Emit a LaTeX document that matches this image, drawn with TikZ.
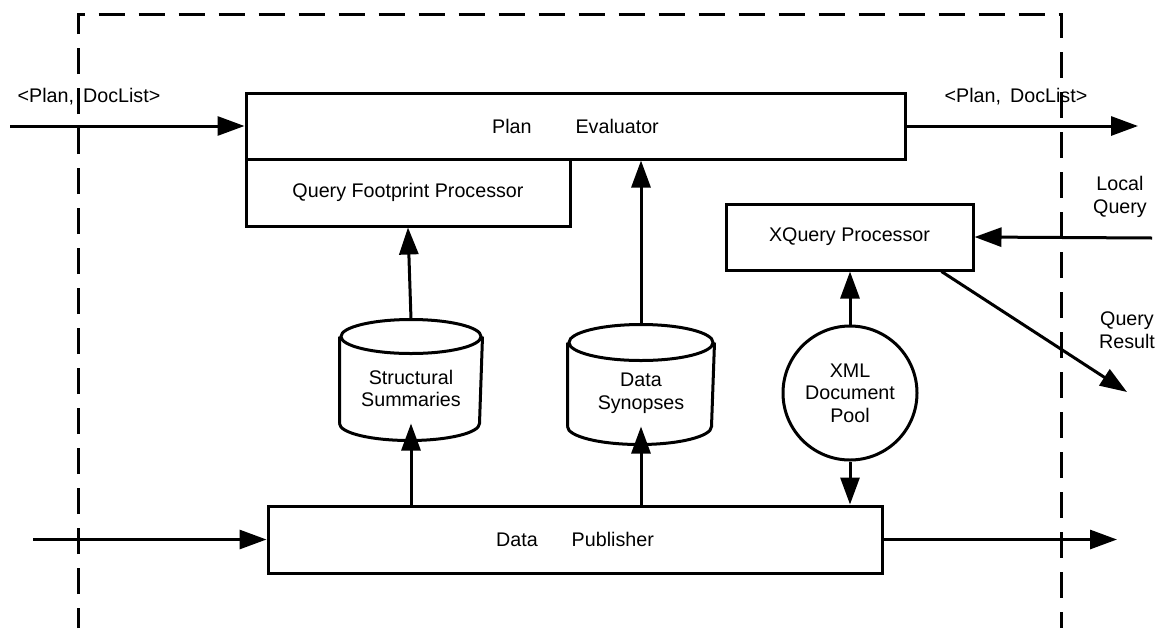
\documentclass[tikz,border=0pt]{standalone}
\usepackage{fontspec}
\setmainfont{Liberation Sans}
\usetikzlibrary{arrows.meta}
\begin{document}
\begin{tikzpicture}[x=1pt,y=-1pt,line width=3pt,
  every node/.style={font=\fontsize{19.7}{22.5}\selectfont,inner sep=0pt,align=center},
  box/.style={draw,rectangle},
  plain/.style={rectangle},
  flow/.style={-{Triangle[length=27pt,width=19pt]}},
  frame/.style={dash pattern=on 26pt off 14pt,dash phase=6pt},
  disc/.style={draw,circle,minimum size=134pt}]

\useasboundingbox (0,0) rectangle (1159,638);

% peer boundary
\draw[frame] (78,628) -- (78,14.5) -- (1061,14.5) -- (1061,628);

% processing boxes
\node[box,minimum width=659pt,minimum height=66pt] (pe) at (575.5,126) {Plan\hspace{44pt}Evaluator};
\node[box,minimum width=324pt,minimum height=67pt] (qfp) at (408,192.5) {Query Footprint Processor};
\node[box,minimum width=247pt,minimum height=66pt] (xq) at (849.5,237) {XQuery Processor};
\node[box,minimum width=614pt,minimum height=67pt] (dp) at (575,539.5) {Data\hspace{34pt}Publisher};

% summary stores (cylinders drawn around the nodes)
\node[plain,minimum width=140pt,minimum height=101pt] (ss) at (411,388.5) {Structural\\Summaries};
\node[plain,minimum width=144pt,minimum height=99pt] (ds) at (641,393.5) {Data\\Synopses};
\draw ([yshift=17pt]ss.south west) -- (ss.north west)
      ([yshift=17pt]ss.south west) arc[start angle=180,end angle=360,x radius=70pt,y radius=17pt]
      -- (ss.north east);
\draw (ss.north) ellipse[x radius=70pt,y radius=17pt];
\draw ([yshift=18pt]ds.south west) -- (ds.north west)
      ([yshift=18pt]ds.south west) arc[start angle=180,end angle=360,x radius=72pt,y radius=18pt]
      -- (ds.north east);
\draw (ds.north) ellipse[x radius=72pt,y radius=18pt];
\coordinate (sstop) at ([yshift=17pt]ss.north);
\coordinate (dstop) at ([yshift=18pt]ds.north);

% document pool
\node[disc] (xml) at (850,393) {XML\\Document\\Pool};

% external ends
\coordinate (pin) at (10,126);
\coordinate (pout) at (1138,126);
\coordinate (din) at (33,539.5);
\coordinate (dout) at (1117,539.5);
\coordinate (lq) at (1152,238);
\coordinate (qr) at (1127,392);

% labels
\node (lin) at (89,97) {<Plan,\hspace{9pt}DocList>};
\node (lout) at (1016,97) {<Plan,\hspace{9pt}DocList>};
\node (llq) at (1120,197) {Local\\Query};
\node (lqr) at (1127,330) {Query\\Result};

% flows
\draw[flow] (pin) -- (pe.west);
\draw[flow] (pe.east) -- (pout);
\draw[flow] (din) -- (dp.west);
\draw[flow] (dp.east) -- (dout);
\draw[flow] (sstop) -- (qfp.south);
\draw[flow] (dstop) -- (dstop |- pe.south);
\draw[flow] (ss.south |- dp.north) -- ([yshift=17pt]ss.south);
\draw[flow] (ds.south |- dp.north) -- ([yshift=18pt]ds.south);
\draw[flow] (xml.north) -- (xml.north |- xq.south);
\draw[flow] (xml.south) -- (xml.south |- dp.north);
\draw[flow] (lq) -- (xq.east);
\draw[flow] ([xshift=-33pt]xq.south east) -- (qr);

\end{tikzpicture}
\end{document}
